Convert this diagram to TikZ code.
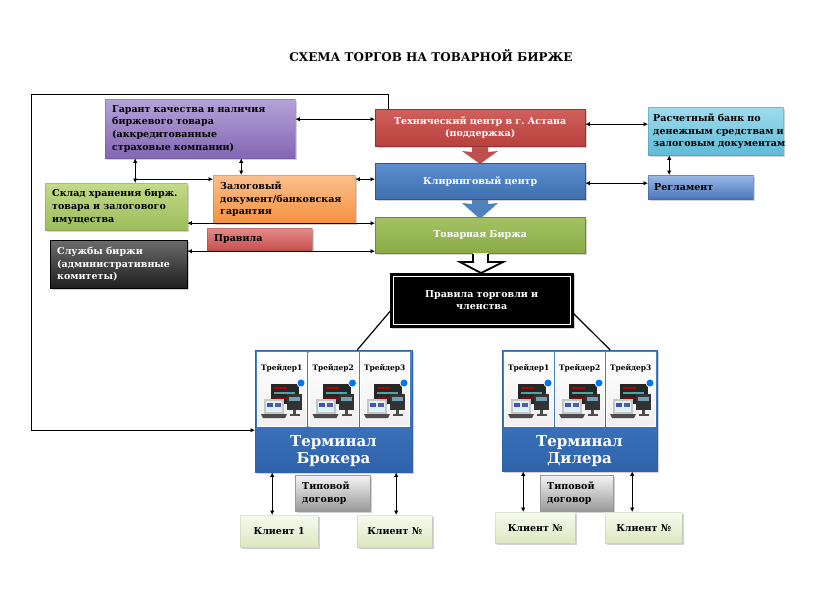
\documentclass[tikz,border=0pt]{standalone}
\usepackage{fontspec}
\setmainfont{DejaVu Serif}
\usetikzlibrary{shadows,arrows.meta,calc}
\frenchspacing
\definecolor{purT}{HTML}{B4A3D8}\definecolor{purB}{HTML}{8466B4}
\definecolor{skT}{HTML}{C3DA8A}\definecolor{skB}{HTML}{9CBC5A}
\definecolor{zaT}{HTML}{FBC08E}\definecolor{zaB}{HTML}{F5913E}
\definecolor{prT}{HTML}{E58C8A}\definecolor{prB}{HTML}{C6504D}
\definecolor{slT}{HTML}{6B6B6B}\definecolor{slB}{HTML}{1E1E1E}
\definecolor{teT}{HTML}{D0605C}\definecolor{teB}{HTML}{B8403D}
\definecolor{clT}{HTML}{5C8FD0}\definecolor{clB}{HTML}{3F6FAF}
\definecolor{biT}{HTML}{A4C264}\definecolor{biB}{HTML}{8AAB45}
\definecolor{baT}{HTML}{9FDCEF}\definecolor{baB}{HTML}{5FBBD4}
\definecolor{reT}{HTML}{9AB8E6}\definecolor{reB}{HTML}{4A76BA}
\definecolor{tmT}{HTML}{4D86CC}\definecolor{tmB}{HTML}{2E63AC}
\definecolor{tiT}{HTML}{F4F4F4}\definecolor{tiB}{HTML}{999999}
\definecolor{ciT}{HTML}{F7FAEE}\definecolor{ciB}{HTML}{DCE7C0}
\definecolor{redarr}{HTML}{C0504D}\definecolor{bluarr}{HTML}{4F81BD}
\tikzset{
  box/.style={font=\fontsize{9.5}{12.7}\selectfont\bfseries, inner xsep=7pt, inner ysep=0pt,
    anchor=north west, align=left,
    drop shadow={shadow xshift=1.6pt,shadow yshift=-1.6pt,opacity=.35}},
  cbox/.style={box, align=center, text=white},
  conn/.style={line width=1.2pt, {Latex[length=4.5pt,width=4.5pt]}-{Latex[length=4.5pt,width=4.5pt]}},
  oneway/.style={line width=1.2pt, -{Latex[length=4.5pt,width=4.5pt]}},
  plain/.style={line width=1.2pt},
  cell/.style={anchor=north west, minimum width=49pt, minimum height=74pt, inner sep=0pt,
    top color=white, bottom color=black!6, draw=white},
  tlabel/.style={font=\fontsize{7.5}{9}\selectfont\bfseries, inner sep=0pt},
  panel/.style={anchor=north west, inner sep=0pt, top color=tmT, bottom color=tmB, draw=tmB,
    drop shadow={shadow xshift=1.6pt,shadow yshift=-1.6pt,opacity=.35}},
  termtext/.style={font=\fontsize{15}{17}\selectfont\bfseries, text=white, align=center, inner sep=0pt},
  client/.style={box, align=center, top color=ciT, bottom color=ciB, draw=ciB!80!black, draw opacity=.3},
  tip/.style={box, top color=tiT, bottom color=tiB, draw=black!40},
  comp/.pic={
    \fill[black!85] (14,32) rectangle (42,52);
    \fill[red!70!black] (17,35) rectangle (30,37);
    \fill[teal!70] (17,40) rectangle (38,42);
    \fill[red!60!black] (17,45) rectangle (34,47);
    \fill[black!80] (30,42) rectangle (45,58);
    \fill[cyan!40!gray] (32,45) rectangle (43,49);
    \fill[gray!60!black] (36,58) rectangle (39,62);
    \fill[black!70] (33,62) rectangle (43,64);
    \fill[gray!45] (7,47) rectangle (27,62);
    \fill[cyan!15!white] (9,49) rectangle (25,60);
    \fill[blue!40!gray] (10,51) rectangle (16,55);
    \fill[blue!30!gray] (18,51) rectangle (24,55);
    \fill[black!70] (4,62) -- (30,62) -- (28,66) -- (6,66) -- cycle;
    \fill[white] (44,31) circle (4.5);
    \fill[blue!55!cyan] (44,31) circle (3.5);
  }
}
\begin{document}
\begin{tikzpicture}[x=1pt,y=-1pt]
\useasboundingbox[fill=white] (0,0) rectangle (836,595);

\node[font=\fontsize{12}{14}\selectfont\bfseries, inner sep=0pt] (title) at (431,56) {СХЕМА ТОРГОВ НА ТОВАРНОЙ БИРЖЕ};

% fat arrows behind boxes
\fill[redarr] (472,140) -- (488,140) -- (488,152) -- (498,151) -- (480,164) -- (462,151) -- (472,152) -- cycle;
\fill[bluarr] (472,195) -- (488,195) -- (488,204) -- (498,203) -- (480,219) -- (462,203) -- (472,204) -- cycle;

% left boxes
\node[box, top color=purT, bottom color=purB, draw=purB!80!black, draw opacity=.4,
  minimum width=190pt, minimum height=59pt, text width=176pt] (gar) at (105,99)
  {Гарант качества и наличия\\биржевого товара\\(аккредитованные\\страховые компании)};
\node[box, top color=skT, bottom color=skB, draw=skB!80!black, draw opacity=.4,
  minimum width=142pt, minimum height=47pt, text width=128pt] (skl) at (45,183)
  {Склад хранения бирж.\\товара и залогового\\имущества};
\node[box, top color=zaT, bottom color=zaB, draw=zaB!80!black, draw opacity=.4,
  minimum width=142pt, minimum height=48pt, text width=128pt] (zal) at (213,175)
  {Залоговый\\документ/банковская\\гарантия};
\node[box, top color=prT, bottom color=prB, draw=prB!80!black, draw opacity=.4,
  minimum width=105pt, minimum height=22pt, text width=91pt] (prs) at (207,228)
  {Правила};
\node[box, text=white, top color=slT, bottom color=slB, draw=black,
  minimum width=137pt, minimum height=48pt, text width=123pt] (slu) at (50,240)
  {Службы биржи\\(административные\\комитеты)};

% central column
\node[cbox, top color=teT, bottom color=teB, draw=teB!80!black,
  minimum width=210pt, minimum height=37pt, text width=196pt] (tech) at (375,109)
  {Технический центр в г. Астана\\(поддержка)};
\node[cbox, top color=clT, bottom color=clB, draw=clB!80!black,
  minimum width=210pt, minimum height=36pt, text width=196pt] (clr) at (375,163)
  {Клиринговый центр};
\node[cbox, top color=biT, bottom color=biB, draw=biB!80!black,
  minimum width=210pt, minimum height=36pt, text width=196pt] (bir) at (375,217)
  {Товарная Биржа};
\node[cbox, fill=black, draw=black,
  minimum width=183pt, minimum height=54pt, text width=169pt] (prt) at (390,273)
  {Правила торговли и\\членства};
\draw[white, line width=0.7pt] ([shift={(3,3)}]prt.north west) rectangle ([shift={(-3,-3)}]prt.south east);

% right boxes
\node[box, top color=baT, bottom color=baB, draw=baB!80!black, draw opacity=.5,
  minimum width=135pt, minimum height=48pt, text width=125pt, inner xsep=5pt] (bank) at (648,107)
  {Расчетный банк по\\\mbox{денежным средствам и}\\\mbox{залоговым документам}};
\node[box, top color=reT, bottom color=reB, draw=reB!80!black, draw opacity=.5,
  minimum width=105pt, minimum height=24pt, text width=93pt, inner xsep=6pt] (reg) at (648,175)
  {Регламент};

% hollow arrow
\fill[white] (473,253) -- (473,262) -- (460,262) -- (481,273) -- (503,262) -- (488,262) -- (488,253) -- cycle;
\draw[line width=1.8pt, line join=miter] (473,254) -- (473,262) -- (460,262) -- (481,273) -- (503,262) -- (488,262) -- (488,254);

% connectors
\coordinate (a1) at ([yshift=8.5pt]tech.west);
\draw[conn] (gar.east |- a1) -- (a1);
\coordinate (a2) at ([yshift=3.5pt]tech.east);
\draw[conn] (a2) -- (a2 -| bank.west);
\coordinate (a3) at ([yshift=-2pt]clr.east);
\draw[conn] (a3) -- (a3 -| reg.west);
\coordinate (a4) at ([xshift=-31.5pt]reg.north);
\draw[conn] (a4 |- bank.south) -- (a4);
\coordinate (a5) at ([yshift=2pt]clr.west);
\draw[conn] (a5 -| zal.east) -- (a5);
\coordinate (a6) at ([yshift=12pt]bir.west);
\draw[conn] (a6 -| skl.east) -- (a6);
\coordinate (a7) at ([yshift=-16pt]bir.west);
\draw[conn] (a7 -| slu.east) -- (a7);
\coordinate (a8) at ([xshift=19pt]skl.north);
\draw[conn] (a8 |- gar.south) -- (a8);
\coordinate (a9) at ([xshift=-43pt]zal.north);
\draw[conn] (a9 |- gar.south) -- (a9);
\coordinate (a10) at ([yshift=20pt]zal.west);
\draw[oneway] (a10 -| a8) -- (a10);

% terminals
\node[panel, minimum width=157pt, minimum height=122pt] (brk) at (255,350) {};
\node[panel, minimum width=155pt, minimum height=121pt] (dlr) at (502,350) {};
\node[cell] (b1) at (257,352) {};
\node[cell] (b2) at (308.5,352) {};
\node[cell] (b3) at (360,352) {};
\node[cell] (d1) at (504,352) {};
\node[cell] (d2) at (555,352) {};
\node[cell] (d3) at (606,352) {};
\foreach \c/\t in {b1/Трейдер1,b2/Трейдер2,b3/Трейдер3,d1/Трейдер1,d2/Трейдер2,d3/Трейдер3}{
  \node[tlabel] (\c l) at ([yshift=-16pt]\c.north) {\t};
  \pic at (\c.north west) {comp};
}
\node[termtext] (bt) at (333.5,451) {Терминал\\Брокера};
\node[termtext] (dt) at (579.5,451) {Терминал\\Дилера};

% outer loop
\coordinate (lp) at ([xshift=-92pt]tech.north);
\coordinate (lb) at ([yshift=-19pt]brk.west);
\draw[oneway, line width=1pt] (lp) -- ++(0,-15) -- ++(-357,0) |- (lb);

% rules to terminals
\coordinate (r1) at ([yshift=16pt]prt.south west);
\coordinate (r2) at ([xshift=23.5pt]brk.north);
\draw[plain] (r1) -- (r2);
\coordinate (r3) at ([yshift=14pt]prt.south east);
\coordinate (r4) at ([xshift=30.5pt]dlr.north);
\draw[plain] (r3) -- (r4);

% bottom
\node[tip, minimum width=75pt, minimum height=36pt, text width=61pt] (tb) at (295,475) {Типовой\\договор};
\node[tip, minimum width=73pt, minimum height=36pt, text width=59pt] (td) at (540,475) {Типовой\\договор};
\node[client, minimum width=78pt, minimum height=32pt] (c1) at (240,515) {Клиент 1};
\node[client, minimum width=75pt, minimum height=32pt] (c2) at (357,515) {Клиент №};
\node[client, minimum width=80pt, minimum height=31pt] (c3) at (495,512) {Клиент №};
\node[client, minimum width=77pt, minimum height=31pt] (c4) at (605,512) {Клиент №};

\coordinate (k1) at ([xshift=-61.5pt]brk.south);
\draw[conn] (k1) -- (k1 |- c1.north);
\coordinate (k2) at ([xshift=62.5pt]brk.south);
\draw[conn] (k2) -- (k2 |- c2.north);
\coordinate (k3) at ([xshift=-56.5pt]dlr.south);
\draw[conn] (k3) -- (k3 |- c3.north);
\coordinate (k4) at ([xshift=52.5pt]dlr.south);
\draw[conn] (k4) -- (k4 |- c4.north);
\end{tikzpicture}
\end{document}
